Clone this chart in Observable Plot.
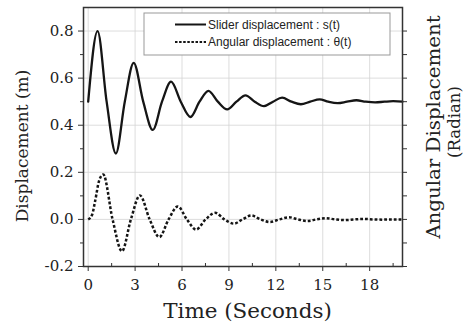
<!DOCTYPE html>
<html><head><meta charset="utf-8">
<script src="https://cdn.jsdelivr.net/npm/d3@7"></script>
<script src="https://cdn.jsdelivr.net/npm/@observablehq/plot@0.6"></script>
<style>html,body{margin:0;padding:0;background:#fff}</style>
</head><body><div id="chart"></div>
<script>
// Slider displacement s(t)
const sliderT = [0, 0.6, 1.18, 1.77, 2.34, 2.91, 3.52, 4.13, 4.72, 5.3, 5.92, 6.54, 7.12, 7.69, 8.29, 8.89, 9.48, 10.06, 10.65, 11.24, 11.82, 12.4, 13.0, 13.6, 14.2, 14.8, 15.35, 15.95, 16.55, 17.15, 17.75, 18.35, 18.95, 19.5, 20.1];
const sliderS = [0.5, 0.80, 0.5, 0.28, 0.5, 0.665, 0.5, 0.38, 0.5, 0.585, 0.5, 0.435, 0.5, 0.546, 0.5, 0.467, 0.5, 0.527, 0.5, 0.481, 0.5, 0.517, 0.5, 0.489, 0.5, 0.51, 0.5, 0.494, 0.5, 0.506, 0.5, 0.497, 0.5, 0.502, 0.5];
// Angular displacement θ(t)
const angularT = [0, 0.25, 0.45, 0.7, 0.96, 1.56, 2.16, 2.73, 3.31, 3.93, 4.55, 5.14, 5.73, 6.31, 6.9, 7.51, 8.12, 8.71, 9.31, 9.87, 10.43, 11.02, 11.62, 12.23, 12.84, 13.42, 14.0, 14.6, 15.2, 15.8, 16.4, 17.0, 17.6, 18.2, 18.8, 19.4, 20.1];
const angularTheta = [0, 0.02, 0.08, 0.165, 0.191, 0, -0.135, 0, 0.102, 0, -0.075, 0, 0.055, 0, -0.043, 0, 0.028, 0, -0.018, 0, 0.017, 0, -0.011, 0, 0.009, 0, -0.007, 0, 0.005, 0, -0.003, 0, 0.002, 0, -0.001, 0, 0];

const xTicks = [0, 3, 6, 9, 12, 15, 18];
const xMinorTicks = [1.5, 4.5, 7.5, 10.5, 13.5, 16.5, 19.5];
const yTicks = [-0.2, 0.0, 0.2, 0.4, 0.6, 0.8];
const yMinorTicks = [-0.1, 0.1, 0.3, 0.5, 0.7];
const yRightTicks = [-0.2, -0.1, 0.0, 0.1, 0.2, 0.3, 0.4, 0.5, 0.6, 0.7, 0.8];
const seriesLabels = ["Slider displacement : s(t)", "Angular displacement : \u03b8(t)"];
const xLabel = "Time (Seconds)";
const yLabel = "Displacement (m)";
const y2Label = ["Angular Displacement", "(Radian)"];

const slider = sliderT.map((t, i) => ({t, v: sliderS[i]}));
const angular = angularT.map((t, i) => ({t, v: angularTheta[i]}));

const W = 466, H = 325;
const mL = 83, mR = 64, mT = 7, mB = 59;

const plot = Plot.plot({
  width: W, height: H,
  marginLeft: mL, marginRight: mR, marginTop: mT, marginBottom: mB,
  style: {fontFamily: "'DejaVu Serif', serif", fontSize: "15px", color: "#222", background: "#fff"},
  x: {domain: [-0.3, 20.1]},
  y: {domain: [-0.2, 0.9]},
  marks: [
    Plot.gridX(xTicks, {stroke: "#d4d4d4", strokeOpacity: 1, strokeWidth: 0.8}),
    Plot.gridY(yTicks, {stroke: "#d4d4d4", strokeOpacity: 1, strokeWidth: 0.8}),
    Plot.line(slider, {x: "t", y: "v", curve: "monotone-x", stroke: "#151515", strokeWidth: 2.3}),
    Plot.line(angular, {x: "t", y: "v", curve: "monotone-x", stroke: "#151515", strokeWidth: 2.5, strokeDasharray: "2.8,2", strokeLinecap: "butt"}),
    Plot.axisX(xTicks, {tickSize: 5, tickPadding: 8, tickFormat: d => String(d), fontSize: 15, label: null, stroke: "#333"}),
    Plot.axisX(xMinorTicks, {tickSize: -3, tickFormat: () => "", label: null, stroke: "#333"}),
    Plot.axisY(yTicks, {anchor: "left", tickSize: 5, tickPadding: 5, tickFormat: d => d.toFixed(1), fontSize: 15, label: null, stroke: "#333"}),
    Plot.axisY(yMinorTicks, {anchor: "left", tickSize: 3, tickFormat: () => "", label: null, stroke: "#333"}),
    Plot.axisY(yRightTicks, {anchor: "right", tickSize: 4, tickFormat: () => "", label: null, stroke: "#333"}),
    Plot.frame({stroke: "#333", strokeWidth: 1.5})
  ]
});
document.getElementById("chart").appendChild(plot);

const svg = d3.select(plot);
const serif = "'DejaVu Serif', serif";
function title(x, y, rot, size, sx, str) {
  svg.append("text")
    .attr("transform", `translate(${x},${y})` + (rot ? " rotate(-90)" : "") + ` scale(${sx},1)`)
    .attr("text-anchor", "middle").attr("font-family", serif).attr("font-size", size)
    .attr("fill", "#222").text(str);
}
title(247.5, 318, false, 19.5, 1.1, xLabel);
title(28, 146, true, 17, 1.0, yLabel);
title(440, 127, true, 18, 1.1, y2Label[0]);
title(459.5, 122, true, 16.5, 1.0, y2Label[1]);

// legend
const lg = svg.append("g");
lg.append("rect").attr("x", 144).attr("y", 13).attr("width", 246).attr("height", 42)
  .attr("fill", "#fff").attr("stroke", "#999").attr("stroke-width", 1);
const rows = [{dash: null, y: 24.5, w: 2}, {dash: "2.5,1.6", y: 42, w: 2}];
rows.forEach((r, i) => {
  const l = lg.append("line").attr("x1", 175).attr("x2", 206).attr("y1", r.y).attr("y2", r.y)
    .attr("stroke", "#151515").attr("stroke-width", r.w);
  if (r.dash) l.attr("stroke-dasharray", r.dash);
  lg.append("text").attr("x", 208).attr("y", r.y).attr("dy", "0.35em").attr("text-anchor", "start")
    .attr("font-family", "'Liberation Sans', Arial, sans-serif").attr("font-size", 12).attr("fill", "#222")
    .text(seriesLabels[i]);
});
</script>
</body></html>
